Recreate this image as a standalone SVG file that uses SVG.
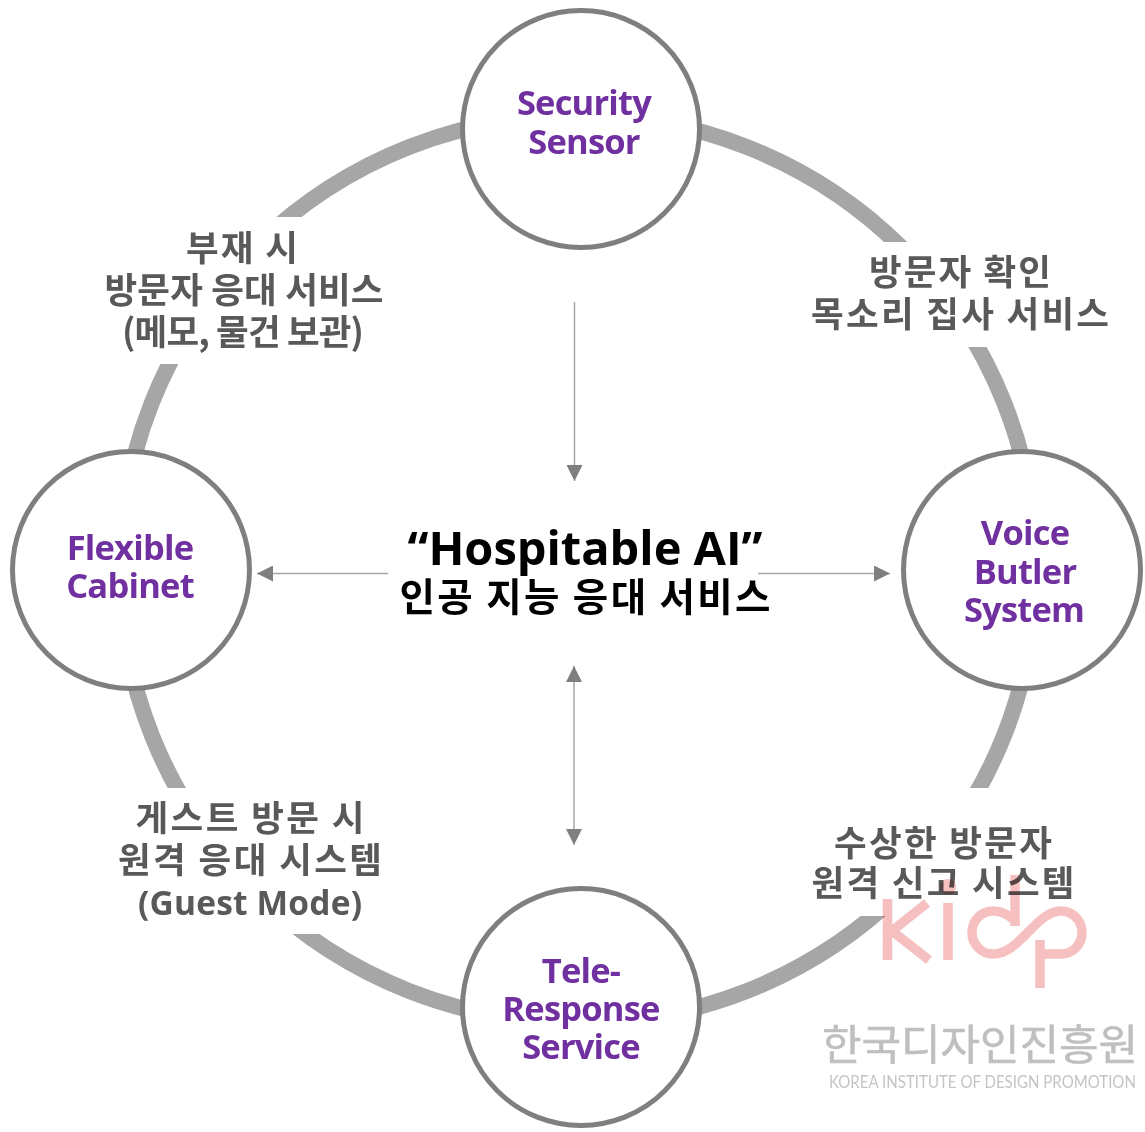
<svg xmlns="http://www.w3.org/2000/svg" width="1145" height="1132" viewBox="0 0 1145 1132">
<style>
.node{fill:#fff;stroke:#7f7f7f;stroke-width:5}
.nt{font:bold 34.500px "Open Sans","Noto Sans CJK KR",sans-serif;fill:#7030a0;text-anchor:middle;letter-spacing:-.8px}
.lb{font:bold 35.500px "Noto Sans CJK KR","Noto Sans",sans-serif;fill:#595959;text-anchor:middle}
.lbl{font:bold 33.500px "Open Sans","Noto Sans CJK KR",sans-serif;fill:#595959;text-anchor:middle}
.ar{stroke:#a6a6a6;stroke-width:1.5;fill:none}
.logo{fill:none;stroke:#f6c0c0;stroke-width:9.500;mix-blend-mode:multiply}
</style>
<defs>
<marker id="ah" markerUnits="userSpaceOnUse" markerWidth="16" markerHeight="16" refX="16" refY="8" orient="auto-start-reverse"><path d="M0,0L16,8L0,16z" fill="#7f7f7f"/></marker>
</defs>
<g id="ring">
<ellipse cx="578" cy="569" rx="458" ry="454" fill="none" stroke="#a6a6a6" stroke-width="16"/>
<rect x="60" y="217" width="340" height="147" fill="#fff"/>
<rect x="790" y="242" width="340" height="105" fill="#fff"/>
<rect x="60" y="788" width="340" height="146" fill="#fff"/>
<rect x="770" y="788" width="340" height="128" fill="#fff"/>
</g>
<g id="connectors">
<path class="ar" d="M574.500,302V481" marker-end="url(#ah)"/>
<path class="ar" d="M388,573.500H257" marker-end="url(#ah)"/>
<path class="ar" d="M758,573.500H890" marker-end="url(#ah)"/>
<path class="ar" d="M574,666V845" marker-start="url(#ah)" marker-end="url(#ah)"/>
</g>
<g id="node-security"><circle class="node" cx="581" cy="129" r="118.500"/><text class="nt" x="584" y="115">Security</text><text class="nt" x="584" y="154">Sensor</text></g>
<g id="node-flexible"><circle class="node" cx="131" cy="570" r="118.500"/><text class="nt" x="130" y="560">Flexible</text><text class="nt" x="130" y="598">Cabinet</text></g>
<g id="node-voice"><circle class="node" cx="1022" cy="570" r="118.500"/><text class="nt" x="1025" y="545">Voice</text><text class="nt" x="1025" y="584">Butler</text><text class="nt" x="1024" y="622">System</text></g>
<g id="node-tele"><circle class="node" cx="581" cy="1007" r="118.500"/><text class="nt" x="581" y="983">Tele-</text><text class="nt" x="581" y="1021">Response</text><text class="nt" x="581" y="1059">Service</text></g>
<g id="center">
<text x="585" y="565" textLength="355" style="font:bold 47px 'Open Sans',sans-serif;text-anchor:middle">“Hospitable AI”</text>
<text x="585" y="611" textLength="371" style="font:bold 38.500px 'Noto Sans CJK KR',sans-serif;text-anchor:middle">인공 지능 응대 서비스</text>
</g>
<g id="labels">
<text class="lb" x="242" y="261" textLength="112">부재 시</text>
<text class="lb" x="244" y="303" textLength="279">방문자 응대 서비스</text>
<text class="lb" x="243" y="345" textLength="242">(메모, 물건 보관)</text>
<text class="lb" x="960" y="285" textLength="182">방문자 확인</text>
<text class="lb" x="960" y="327" textLength="298">목소리 집사 서비스</text>
<text class="lb" x="250" y="831" textLength="229">게스트 방문 시</text>
<text class="lb" x="250" y="873" textLength="264">원격 응대 시스템</text>
<text class="lbl" x="250" y="915" textLength="224">(Guest Mode)</text>
<text class="lb" x="943" y="856" textLength="218">수상한 방문자</text>
<text class="lb" x="943" y="896" textLength="263">원격 신고 시스템</text>
</g>
<g id="logo">
<path class="logo" d="M887.500,899V960M892,931L927,903M892,931L929,960M948,903V960"/>
<circle cx="948" cy="887" r="8" fill="#f6c0c0" style="mix-blend-mode:multiply"/>
<path class="logo" d="M1040,988V940M1040,954H1061A21,21.500 0 0 0 1061,911C1036,911 1020,954 993,954A21,21.500 0 1 1 993,911C1003,911 1010,916 1015,921M1015,926V875"/>
<text x="822" y="1060" textLength="316" lengthAdjust="spacingAndGlyphs" style="font:42px 'Noto Sans CJK KR',sans-serif;fill:#bfbfbf;stroke:#bfbfbf;stroke-width:.6">한국디자인진흥원</text>
<text transform="translate(829,1088) scale(.9,1)" textLength="341" lengthAdjust="spacingAndGlyphs" style="font:17px 'Lato',sans-serif;fill:#c4c4c4">KOREA INSTITUTE OF DESIGN PROMOTION</text>
</g>
</svg>
